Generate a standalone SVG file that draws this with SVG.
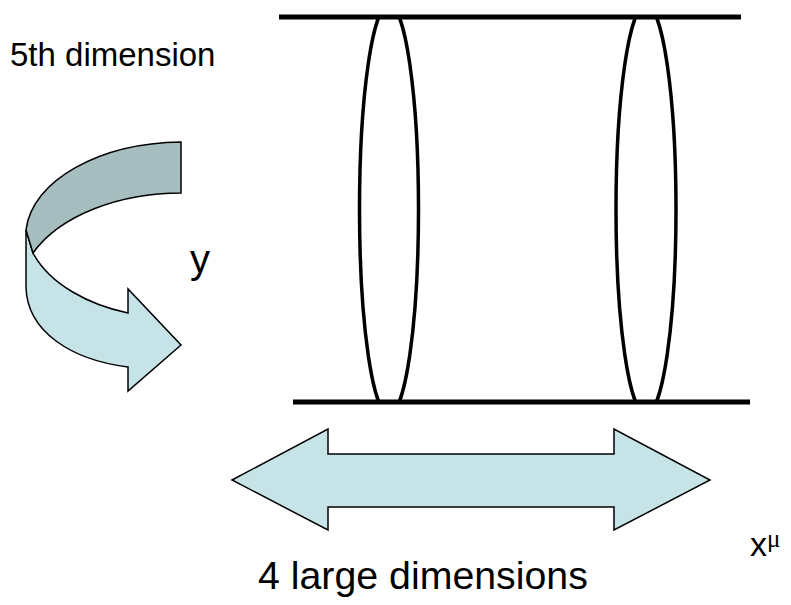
<svg xmlns="http://www.w3.org/2000/svg" width="791" height="605" viewBox="0 0 791 605">
<style>
.lbl{font-family:"Liberation Sans",Arial,sans-serif;fill:#000}
.rail{stroke:#000;stroke-width:5;fill:none}
.ring{stroke:#000;stroke-width:3.5;fill:none}
.light{fill:#c6e4e8;stroke:#000;stroke-width:1.5;stroke-linejoin:miter}
.dark{fill:#a7bec1;stroke:#000;stroke-width:1.5}
</style>
<defs>
<clipPath id="between"><rect x="0" y="17" width="791" height="385"/></clipPath>
</defs>
<rect width="791" height="605" fill="#fff"/>
<g id="ring-left" clip-path="url(#between)"><ellipse class="ring" cx="389" cy="209.5" rx="29.5" ry="205"/></g>
<g id="ring-right" clip-path="url(#between)"><ellipse class="ring" cx="646" cy="209.5" rx="30" ry="205"/></g>
<g id="rails">
<line class="rail" x1="279" y1="17" x2="741" y2="17"/>
<line class="rail" x1="293" y1="402" x2="750" y2="402"/>
</g>
<g id="curved-arrow">
<path class="light" d="M26,230 L26,287 C27,332 72,360 128,367 L128,391 L181,345 L128,289 L128,313 C90,305 50,285 33,253 Z"/>
<path class="dark" d="M181,142 C100,143 32,180 26,230 L33,253 C60,215 120,193 181,193 Z"/>
</g>
<g id="double-arrow">
<path class="light" d="M232,480 L328,429 L328,454 L614,454 L614,429 L710,480 L614,530 L614,507 L328,507 L328,530 Z"/>
</g>
<g id="labels">
<text class="lbl" x="10" y="66" font-size="33">5th dimension</text>
<text class="lbl" x="190" y="273" font-size="40">y</text>
<text class="lbl" x="258" y="589" font-size="39.3">4 large dimensions</text>
<text class="lbl" x="750" y="556" font-size="34">x<tspan font-family="'Liberation Serif',serif" font-size="25" dy="-9">μ</tspan></text>
</g>
</svg>
